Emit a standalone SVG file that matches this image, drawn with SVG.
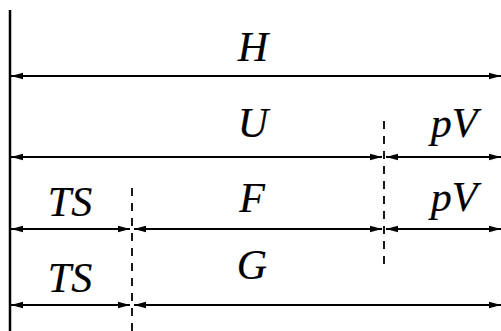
<svg xmlns="http://www.w3.org/2000/svg" width="501" height="331" viewBox="0 0 501 331">
<style>
.t{font-family:'Liberation Serif','Times New Roman',serif;font-style:italic;font-size:42px;fill:#000;stroke:#000;stroke-width:0.2;text-anchor:middle}
.a{stroke:#000;stroke-width:2.2;fill:none;marker-start:url(#ms);marker-end:url(#me)}
.d{stroke:#000;stroke-width:1.8;stroke-dasharray:8,7;fill:none}
</style>
<defs>
<marker id="me" markerUnits="userSpaceOnUse" markerWidth="12" markerHeight="8" refX="12" refY="4" orient="auto"><path d="M0,0.8 L12,4 L0,7.2 Z" fill="#000"/></marker>
<marker id="ms" markerUnits="userSpaceOnUse" markerWidth="12" markerHeight="8" refX="0" refY="4" orient="auto"><path d="M12,0.8 L0,4 L12,7.2 Z" fill="#000"/></marker>
</defs>
<g id="axis"><line x1="10" y1="10" x2="10" y2="331" stroke="#000" stroke-width="2.5"/></g>
<g id="dividers">
<line class="d" x1="384" y1="121" x2="384" y2="265"/>
<line class="d" x1="132" y1="188" x2="132" y2="331"/>
</g>
<g id="connectors">
<line class="a" x1="11" y1="76" x2="501" y2="76"/>
<line class="a" x1="11" y1="157" x2="382" y2="157"/>
<line class="a" x1="386" y1="157" x2="501" y2="157"/>
<line class="a" x1="11" y1="229" x2="130" y2="229"/>
<line class="a" x1="134" y1="229" x2="382" y2="229"/>
<line class="a" x1="386" y1="229" x2="501" y2="229"/>
<line class="a" x1="11" y1="305" x2="130" y2="305"/>
<line class="a" x1="134" y1="305" x2="501" y2="305"/>
</g>
<g id="H"><text class="t" x="253" y="61">H</text></g>
<g id="U"><text class="t" x="253" y="137">U</text></g>
<g id="pV1"><text class="t" x="454" y="137">pV</text></g>
<g id="TS1"><text class="t" x="70" y="216">TS</text></g>
<g id="F"><text class="t" x="252" y="212">F</text></g>
<g id="pV2"><text class="t" x="454" y="211">pV</text></g>
<g id="TS2"><text class="t" x="70" y="292">TS</text></g>
<g id="G"><text class="t" x="252" y="279">G</text></g>
</svg>
